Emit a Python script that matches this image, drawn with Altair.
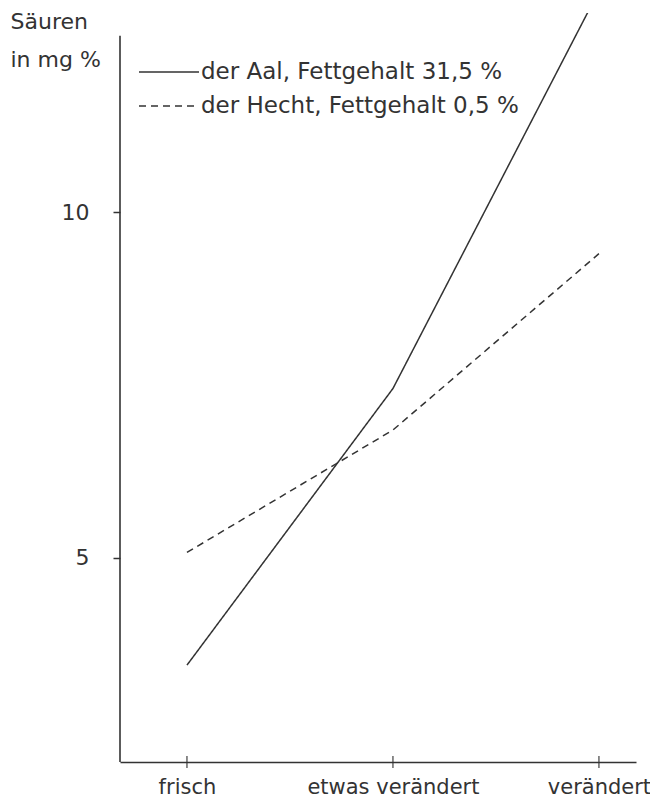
import altair as alt
import pandas as pd

stages = ["frisch", "etwas verändert", "verändert"]
stage_pos = [0, 1, 2]
series = ["der Aal, Fettgehalt 31,5 %", "der Hecht, Fettgehalt 0,5 %"]
aal = [3.45, 7.45, 13.2]
hecht = [5.08, 6.85, 9.4]
y_ticks = [5, 10]

rows = []
for s, vals in zip(series, [aal, hecht]):
    for p, st, v in zip(stage_pos, stages, vals):
        rows.append({"pos": p, "stage": st, "series": s, "value": v})
df = pd.DataFrame(rows)

X_DOM = [-0.325, 2.18]
Y_DOM = [2.05, 12.88]
FONT = "DejaVu Sans"
INK = "#333333"
FS = 22

label_expr = " : ".join(
    f"datum.value == {p} ? '{s}'" for p, s in zip(stage_pos, stages)
) + " : ''"

x_enc = alt.X(
    "pos:Q",
    scale=alt.Scale(domain=X_DOM, nice=False, zero=False),
    axis=alt.Axis(
        values=stage_pos, labelExpr=label_expr, ticks=False, grid=False,
        domainColor=INK, domainWidth=1.6, labelFontSize=21, labelFont=FONT,
        labelColor=INK, labelPadding=14, labelFlush=False, labelOverlap=False,
        labelLimit=400, title=None,
    ),
)
y_enc = alt.Y(
    "value:Q",
    scale=alt.Scale(domain=Y_DOM, nice=False, zero=False),
    axis=alt.Axis(
        values=y_ticks, format="d", domain=False, grid=False, tickSize=7,
        tickColor=INK, tickWidth=1.5, labelFontSize=FS, labelFont=FONT,
        labelColor=INK, labelPadding=24, title=["Säuren", "in mg %"],
        titleAngle=0, titleAlign="left", titleBaseline="top", titleX=-110,
        titleY=-2, titleFontWeight="normal", titleFontSize=FS,
        titleFont=FONT, titleColor=INK, titleLineHeight=38,
    ),
)

lines = alt.Chart(df).mark_line(color=INK, strokeWidth=1.5, clip=True).encode(
    x=x_enc,
    y=y_enc,
    strokeDash=alt.StrokeDash(
        "series:N",
        scale=alt.Scale(domain=series, range=[[1, 0], [7, 5]]),
        legend=alt.Legend(
            orient="none", legendX=33, legendY=43, title=None,
            symbolType="M-2,0L2,0", symbolSize=900, symbolStrokeWidth=1.5,
            symbolStrokeColor=INK, labelFontSize=23, labelFont=FONT,
            labelColor=INK, labelLimit=500, labelOffset=16, rowPadding=6,
            padding=0,
        ),
    ),
    order="pos:Q",
)

axis_df = pd.DataFrame({"x": [X_DOM[0]], "y": [Y_DOM[0]], "y2": [12.55]})
y_axis_line = alt.Chart(axis_df).mark_rule(color=INK, strokeWidth=1.6).encode(
    x=alt.X("x:Q", scale=alt.Scale(domain=X_DOM, nice=False, zero=False)),
    y=alt.Y("y:Q", scale=alt.Scale(domain=Y_DOM, nice=False, zero=False)),
    y2="y2:Q",
)

tick_df = pd.DataFrame({"pos": stage_pos, "y": [Y_DOM[0]] * len(stage_pos)})
x_ticks = alt.Chart(tick_df).mark_tick(
    orient="vertical", size=12, thickness=1.6, color=INK
).encode(
    x=alt.X("pos:Q", scale=alt.Scale(domain=X_DOM, nice=False, zero=False)),
    y=alt.Y("y:Q", scale=alt.Scale(domain=Y_DOM, nice=False, zero=False)),
)

chart = alt.layer(lines, y_axis_line, x_ticks).properties(
    width=516, height=749,
    autosize=alt.AutoSizeParams(type="none"),
    padding={"left": 112, "top": 5, "right": 14, "bottom": 39},
).configure(background="white").configure_view(stroke=None)

chart.save("out.html", embed_options={"renderer": "svg", "actions": False})
